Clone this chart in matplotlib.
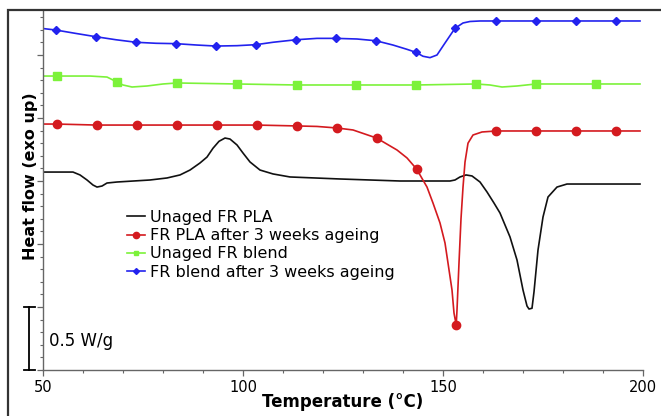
import matplotlib
matplotlib.use("Agg")
import matplotlib.pyplot as plt
from matplotlib.lines import Line2D
from matplotlib.patches import Rectangle
import matplotlib.transforms as mtransforms

# ---------------- data (Temperature in °C, heat flow in W/g, offset curves) -------------
black_T = [50.0, 57.5, 59.25, 61.0, 62.5, 63.5, 64.75, 66.0, 68.5, 76.75, 81.0, 84.25, 86.75,
           89.25, 91.0, 92.5, 94.0, 95.5, 96.75, 98.5, 100.0, 101.75, 104.25, 107.5, 111.75,
           124.25, 139.25, 151.75, 153.0, 154.25, 155.75, 157.25, 159.25, 161.0, 162.75,
           164.25, 166.75, 168.5, 170.0, 171.0, 171.5, 172.25, 172.75, 173.75, 175.0, 176.25,
           178.5, 181.0, 189.25, 199.25]
black_v = [1.571, 1.571, 1.548, 1.508, 1.468, 1.452, 1.460, 1.484, 1.492, 1.508, 1.524, 1.548,
           1.587, 1.643, 1.690, 1.760, 1.815, 1.841, 1.833, 1.786, 1.722, 1.651, 1.587, 1.556,
           1.532, 1.516, 1.500, 1.500, 1.508, 1.532, 1.548, 1.540, 1.492, 1.413, 1.325,
           1.246, 1.056, 0.873, 0.635, 0.508, 0.484, 0.490, 0.620, 0.952, 1.214, 1.373,
           1.452, 1.476, 1.476, 1.476]

red_T = [50.0, 53.4, 63.4, 73.4, 83.4, 93.4, 103.4, 113.4, 118.5, 123.4, 127.5, 133.4, 138.5,
         141.0, 143.4, 146.0, 147.5, 149.25, 150.5, 151.25, 152.25, 152.75, 153.3, 153.5,
         154.0, 154.5, 155.0, 155.5, 156.25, 157.5, 159.75, 163.3, 173.3, 183.3, 193.3,
         199.25]
red_v = [1.952, 1.952, 1.944, 1.944, 1.944, 1.944, 1.944, 1.937, 1.933, 1.921, 1.905, 1.841,
         1.746, 1.683, 1.595, 1.452, 1.325, 1.167, 1.008, 0.849, 0.635, 0.452, 0.357, 0.476,
         0.850, 1.200, 1.450, 1.650, 1.800, 1.865, 1.889, 1.897, 1.897, 1.897, 1.897, 1.897]
red_mark_T = [53.4, 63.4, 73.4, 83.4, 93.4, 103.4, 113.4, 123.4, 133.4, 143.4, 153.3,
              163.3, 173.3, 183.3, 193.3]
red_mark_v = [1.952, 1.944, 1.944, 1.944, 1.944, 1.944, 1.937, 1.921, 1.841, 1.595, 0.357,
              1.897, 1.897, 1.897, 1.897]

green_T = [50.0, 53.5, 61.75, 66.0, 68.5, 70.0, 72.25, 76.0, 80.0, 83.5, 98.5, 113.5, 128.25,
           143.25, 158.25, 161.75, 164.75, 168.5, 173.25, 188.25, 199.25]
green_v = [2.333, 2.333, 2.333, 2.325, 2.286, 2.262, 2.246, 2.254, 2.270, 2.278, 2.270, 2.262,
           2.262, 2.262, 2.270, 2.262, 2.246, 2.254, 2.270, 2.270, 2.270]
green_mark_T = [53.5, 68.5, 83.5, 98.5, 113.5, 128.25, 143.25, 158.25, 173.25, 188.25]
green_mark_v = [2.333, 2.286, 2.278, 2.270, 2.262, 2.262, 2.262, 2.270, 2.270, 2.270]

blue_T = [50.0, 53.25, 58.25, 63.25, 68.25, 73.25, 78.25, 83.25, 88.5, 93.25, 98.5, 103.25,
          107.5, 113.25, 118.5, 123.25, 128.5, 133.25, 137.5, 141.0, 143.25, 145.0, 146.75,
          148.5, 150.5, 153.0, 155.0, 156.75, 159.25, 199.25]
blue_v = [2.710, 2.698, 2.671, 2.645, 2.621, 2.601, 2.593, 2.590, 2.579, 2.571, 2.574, 2.582,
          2.601, 2.621, 2.632, 2.632, 2.627, 2.613, 2.579, 2.545, 2.521, 2.490, 2.479,
          2.500, 2.595, 2.712, 2.754, 2.766, 2.770, 2.770]
blue_mark_T = [53.25, 63.25, 73.25, 83.25, 93.25, 103.25, 113.25, 123.25, 133.25, 143.25,
               153.0, 163.25, 173.25, 183.25, 193.25]
blue_mark_v = [2.698, 2.645, 2.601, 2.590, 2.571, 2.582, 2.621, 2.632, 2.613, 2.521, 2.712,
               2.770, 2.770, 2.770, 2.770]

labels = ["Unaged FR PLA", "FR PLA after 3 weeks ageing", "Unaged FR blend",
          "FR blend after 3 weeks ageing"]
x_ticks = [50, 100, 150, 200]
scale_bar = 0.5
scale_text = "0.5 W/g"

# ---------------- figure --------------------------------------------------------------
W, H = 661, 416
fig = plt.figure(figsize=(W / 100, H / 100), dpi=100)
plt.rcParams['font.family'] = ['DejaVu Sans']

ax_l, ax_r, ax_t, ax_b = 43, 643, 11, 370
ax = fig.add_axes([ax_l / W, 1 - ax_b / H, (ax_r - ax_l) / W, (ax_b - ax_t) / H])

c_black = "#111111"
c_red = "#d41a1f"
c_green = "#7cf23a"
c_blue = "#2222ee"
lw = 1.2

ax.plot(black_T, black_v, color=c_black, lw=lw, solid_joinstyle="round")
ax.plot(red_T, red_v, color=c_red, lw=lw, solid_joinstyle="round")
ax.plot(red_mark_T, red_mark_v, ls="none", marker="o", ms=6, color=c_red)
ax.plot(green_T, green_v, color=c_green, lw=lw, solid_joinstyle="round")
ax.plot(green_mark_T, green_mark_v, ls="none", marker="s", ms=5.5, color=c_green)
ax.plot(blue_T, blue_v, color=c_blue, lw=lw, solid_joinstyle="round")
ax.plot(blue_mark_T, blue_mark_v, ls="none", marker="D", ms=4.5, color=c_blue)

ax.set_xlim(50, 200)
ax.set_ylim(0, (ax_b - ax_t) / 126.0)

spine_c = "#666666"
for s in ["top", "right"]:
    ax.spines[s].set_visible(False)
for s in ["left", "bottom"]:
    ax.spines[s].set_color(spine_c)
    ax.spines[s].set_linewidth(1.0)

ax.set_xticks(x_ticks)
ax.set_xticks(range(50, 201, 10), minor=True)
ax.set_xticklabels([str(t) for t in x_ticks], fontsize=10.5)
ax.set_yticks([i * 0.5 for i in range(6)])
ax.set_yticks([i * 0.1 for i in range(29)], minor=True)
ax.set_yticklabels([])
ax.tick_params(axis="both", which="major", direction="out", length=4, width=0.9,
               color=spine_c, pad=3)
ax.tick_params(axis="both", which="minor", direction="out", length=2.2, width=0.8,
               color=spine_c)

ax.set_xlabel("Temperature (°C)", fontsize=12, fontweight="bold", labelpad=-1)
fig.text(31 / W, 1 - 176 / H, "Heat flow (exo up)", rotation=90, ha="center",
         va="center", fontsize=11.5, fontweight="bold")

# scale bar
trans = mtransforms.blended_transform_factory(ax.transAxes, ax.transData)
xb = (29 - ax_l) / (ax_r - ax_l)
xc0 = (24 - ax_l) / (ax_r - ax_l)
xc1 = (35 - ax_l) / (ax_r - ax_l)
ax.add_line(Line2D([xb, xb], [0, scale_bar], transform=trans, color="black", lw=1.3,
                   clip_on=False))
for yy in (0, scale_bar):
    ax.add_line(Line2D([xc0, xc1], [yy, yy], transform=trans, color="black", lw=1.3,
                       clip_on=False))
ax.text(51.5, scale_bar * 0.46, scale_text, fontsize=12, ha="left", va="center")

# legend
handles = [
    Line2D([], [], color=c_black, lw=lw),
    Line2D([], [], color=c_red, lw=lw, marker="o", ms=4.5),
    Line2D([], [], color=c_green, lw=lw, marker="s", ms=3.5),
    Line2D([], [], color=c_blue, lw=lw, marker="D", ms=3),
]
ax.legend(handles, labels, loc="upper left",
          bbox_to_anchor=((127 - ax_l) / (ax_r - ax_l), (ax_b - 210) / (ax_b - ax_t)),
          frameon=False, fontsize=11.5, handlelength=1.15, handletextpad=0.3,
          labelspacing=0.2, borderpad=0, borderaxespad=0)

# outer frame
fig.patches.append(Rectangle((8 / W, -0.2), 1.2, 1.2 - 10 / H, transform=fig.transFigure,
                             fill=False, edgecolor="#333333", lw=1.6))

fig.savefig("out.png", dpi=100)
